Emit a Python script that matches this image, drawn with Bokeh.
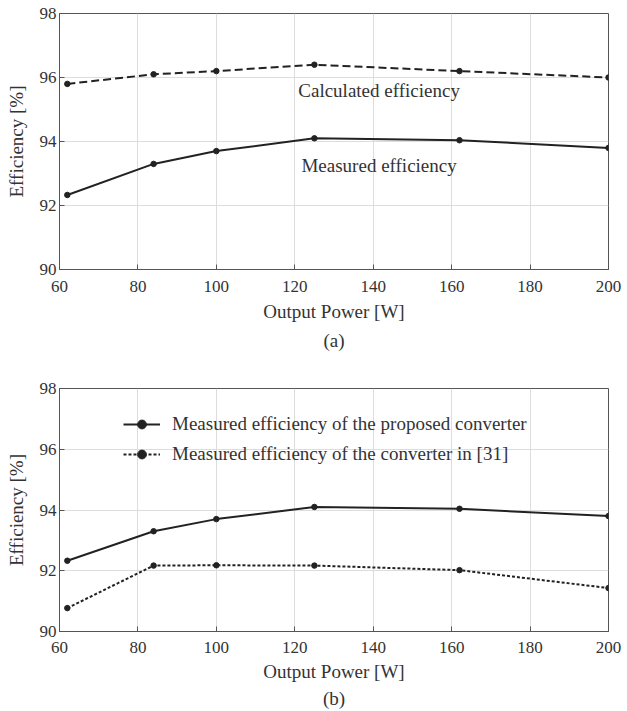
from bokeh.plotting import figure
from bokeh.layouts import column
from bokeh.models import FixedTicker, Legend, LegendItem, Title, Range1d
from bokeh.embed import file_html
from bokeh.resources import INLINE
from bokeh.core.properties import value

# ---------------- data ----------------
power_w = [62, 84, 100, 125, 162, 200]
calc_eff_a = [95.8, 96.1, 96.2, 96.4, 96.2, 96.0]
meas_eff_a = [92.33, 93.3, 93.7, 94.1, 94.04, 93.8]
meas_eff_b = [92.33, 93.3, 93.7, 94.1, 94.04, 93.8]
ref31_eff_b = [90.77, 92.17, 92.18, 92.17, 92.02, 91.43]
x_ticks = [60, 80, 100, 120, 140, 160, 180, 200]
y_ticks = [90, 92, 94, 96, 98]

label_calc = "Calculated efficiency"
label_meas = "Measured efficiency"
legend_b1 = "Measured efficiency of the proposed converter"
legend_b2 = "Measured efficiency of the converter in [31]"

FONT = "Liberation Serif"
TXT = "#333333"
LINE = "#222222"


def make_fig(height, top, bottom, caption, tick_sd, lab_sd, cap_sd):
    p = figure(width=627, height=height, x_range=Range1d(60, 200), y_range=Range1d(90, 98),
               output_backend="svg", toolbar_location=None,
               min_border_left=59, min_border_right=19, min_border_top=top, min_border_bottom=bottom)
    p.outline_line_color = "#555555"
    p.outline_line_width = 1
    p.background_fill_color = "white"
    p.border_fill_color = "white"
    for ax, tk in ((p.xaxis[0], x_ticks), (p.yaxis[0], y_ticks)):
        ax.ticker = FixedTicker(ticks=tk)
        ax.major_tick_in = 5
        ax.major_tick_out = 0
        ax.minor_tick_line_color = None
        ax.axis_line_color = "#555555"
        ax.major_tick_line_color = "#555555"
        ax.major_label_text_font = FONT
        ax.major_label_text_font_size = "17px"
        ax.major_label_text_color = TXT
        ax.axis_label_text_font = FONT
        ax.axis_label_text_font_size = "19px"
        ax.axis_label_text_font_style = "normal"
        ax.axis_label_text_color = TXT
    p.xaxis[0].axis_label = "Output Power [W]"
    p.xaxis[0].major_label_standoff = tick_sd
    p.xaxis[0].axis_label_standoff = lab_sd
    p.yaxis[0].axis_label = "Efficiency [%]"
    p.yaxis[0].major_label_standoff = 3
    p.yaxis[0].axis_label_standoff = 10
    p.xgrid.ticker = FixedTicker(ticks=x_ticks)
    p.ygrid.ticker = FixedTicker(ticks=y_ticks)
    p.grid.grid_line_color = "#dddddd"
    p.grid.grid_line_width = 1
    p.add_layout(Title(text=caption, align="center", text_font=FONT, text_font_size="19px",
                       text_font_style="normal", text_color=TXT, standoff=cap_sd), "below")
    return p


# ---------------- (a) ----------------
pa = make_fig(362, 13, 93, "(a)", 11, 6, 6)
pa.line(power_w, calc_eff_a, line_color=LINE, line_width=2, line_dash="8 4")
pa.scatter(power_w, calc_eff_a, marker="circle", size=5.5, color=LINE)
pa.line(power_w, meas_eff_a, line_color=LINE, line_width=2)
pa.scatter(power_w, meas_eff_a, marker="circle", size=5.5, color=LINE)
pa.text(x=[141.5], y=[95.58], text=[label_calc], text_align="center", text_baseline="middle",
        text_font=value(FONT), text_font_size="19px", text_color=TXT)
pa.text(x=[141.5], y=[93.24], text=[label_meas], text_align="center", text_baseline="middle",
        text_font=value(FONT), text_font_size="19px", text_color=TXT)

# ---------------- (b) ----------------
pb = make_fig(349, 26, 80, "(b)", 10, 5, 2)
l1 = pb.line(power_w, meas_eff_b, line_color=LINE, line_width=2)
s1 = pb.scatter(power_w, meas_eff_b, marker="circle", size=5.5, color=LINE)
l2 = pb.line(power_w, ref31_eff_b, line_color=LINE, line_width=2, line_dash="3 2")
s2 = pb.scatter(power_w, ref31_eff_b, marker="circle", size=5.5, color=LINE)
leg = Legend(items=[LegendItem(label=legend_b1, renderers=[l1, s1]),
                    LegendItem(label=legend_b2, renderers=[l2, s2])],
             location=(64, 166), glyph_width=37, glyph_height=22, label_height=22,
             spacing=8, padding=0, margin=0, border_line_alpha=0, background_fill_alpha=0,
             label_standoff=12, label_text_font=FONT, label_text_font_size="19px",
             label_text_color=TXT)
pb.add_layout(leg)

layout = column(pa, pb, spacing=0)
open("out.html", "w").write(file_html(layout, INLINE))
